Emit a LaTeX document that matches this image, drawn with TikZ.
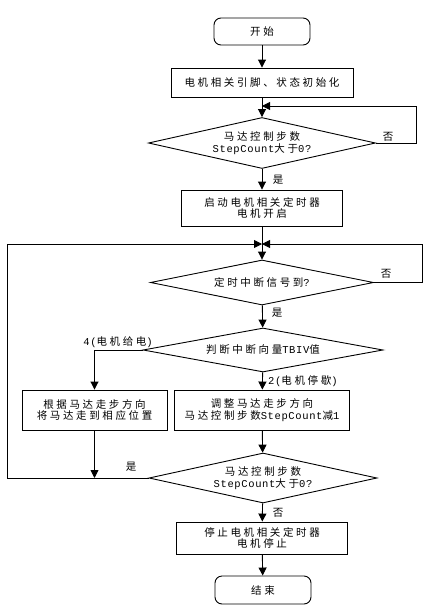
\documentclass[tikz,border=0pt]{standalone}
\usepackage{fontspec}
\newfontfamily\cjk[LetterSpace=25]{Noto Sans CJK SC}
\newfontfamily\latf[LetterSpace=6]{Liberation Mono}
\newcommand{\lt}[1]{{\latf\fontsize{10.5}{11.5}\selectfont #1}}
\usetikzlibrary{arrows.meta,shapes.geometric}
\begin{document}
\begin{tikzpicture}[x=1pt,y=-1pt,
  base/.style={draw,line width=0.9pt,font=\cjk\fontsize{10.5}{11.5}\selectfont,align=center,inner sep=0pt},
  proc/.style={base,rectangle},
  term/.style={base,rectangle,rounded corners=7pt},
  dec/.style={base,diamond},
  lbl/.style={font=\cjk\fontsize{10.5}{11.5}\selectfont,inner sep=0pt},
  arr/.style={-{Triangle[length=8pt,width=8pt]},line width=0.9pt},
  ln/.style={line width=0.9pt}]
\fill[white] (0,0) rectangle (437,616);
\useasboundingbox (0,0) rectangle (437,616);

% nodes
\node[term,minimum width=96pt,minimum height=27pt] (start) at (262,31.5) {开始};
\node[proc,minimum width=182pt,minimum height=29pt] (init) at (262,82.5) {电机相关引脚、状态初始化};
\node[dec,aspect=4.45,minimum width=227pt,minimum height=51pt] (d1) at (262,143) {马达控制步数\\\lt{StepCount}大于\lt{0?}};
\node[proc,minimum width=161pt,minimum height=36pt] (b3) at (262,208) {启动电机相关定时器\\电机开启};
\node[dec,aspect=4.95,minimum width=223pt,minimum height=45pt] (d2) at (262,282.5) {定时中断信号到\lt{?}};
\node[dec,aspect=5.45,minimum width=240pt,minimum height=44pt] (d3) at (263,350) {判断中断向量\lt{TBIV}值};
\node[proc,minimum width=145pt,minimum height=40pt] (bL) at (94.5,410) {根据马达走步方向\\将马达走到相应位置};
\node[proc,minimum width=175pt,minimum height=40pt] (bR) at (262,410) {调整马达走步方向\\马达控制步数\lt{StepCount}减\lt{1}};
\node[dec,aspect=4.56,minimum width=228pt,minimum height=50pt] (d4) at (263,478) {马达控制步数\\\lt{StepCount}大于\lt{0?}};
\node[proc,minimum width=171pt,minimum height=32pt] (stop) at (262,538) {停止电机相关定时器\\电机停止};
\node[term,minimum width=96pt,minimum height=28pt] (end) at (263,590) {结束};

% junction coordinates
\coordinate (j1) at (262,106);
\coordinate (r1a) at (416,143);
\coordinate (r1b) at (416,106);
\coordinate (m) at (262,244);
\coordinate (r2a) at (422,282.5);
\coordinate (r2b) at (422,244);
\coordinate (l1) at (7,478);
\coordinate (l2) at (7,244);
\coordinate (b3l) at (94.5,350);
\coordinate (j4) at (94.5,478);

% connectors
\draw[arr] (start) -- (init);
\draw[arr] (init) -- (d1);
\draw[arr] (d1.east) -- (r1a) -- (r1b) -- (j1);
\draw[arr] (d1) -- (b3);
\draw[ln] (b3) -- (m);
\draw[arr] (m) -- (d2);
\draw[arr] (d2.east) -- (r2a) -- (r2b) -- (m);
\draw[arr] (d4.west) -- (l1) -- (l2) -- (m);
\draw[arr] (d2) -- (d3);
\draw[arr] (d3.west) -- (b3l) -- (bL);
\draw[arr] (d3) -- (bR);
\draw[arr] (bR) -- (d4);
\draw[arr] (bL) -- (j4);
\draw[arr] (d4) -- (stop);
\draw[arr] (stop) -- (end);

% labels
\node[lbl] (n1) at (388,137) {否};
\node[lbl] (y1) at (278,180) {是};
\node[lbl] (n2) at (386,274) {否};
\node[lbl] (y2) at (277,313) {是};
\node[lbl,anchor=east] (c4) at (153,342) {\lt{4(}电机给电\lt{)}};
\node[lbl,anchor=west] (c2) at (268,381) {\lt{2(}电机停歇\lt{)}};
\node[lbl] (y3) at (131,467) {是};
\node[lbl] (n3) at (278,513) {否};
\end{tikzpicture}
\end{document}
